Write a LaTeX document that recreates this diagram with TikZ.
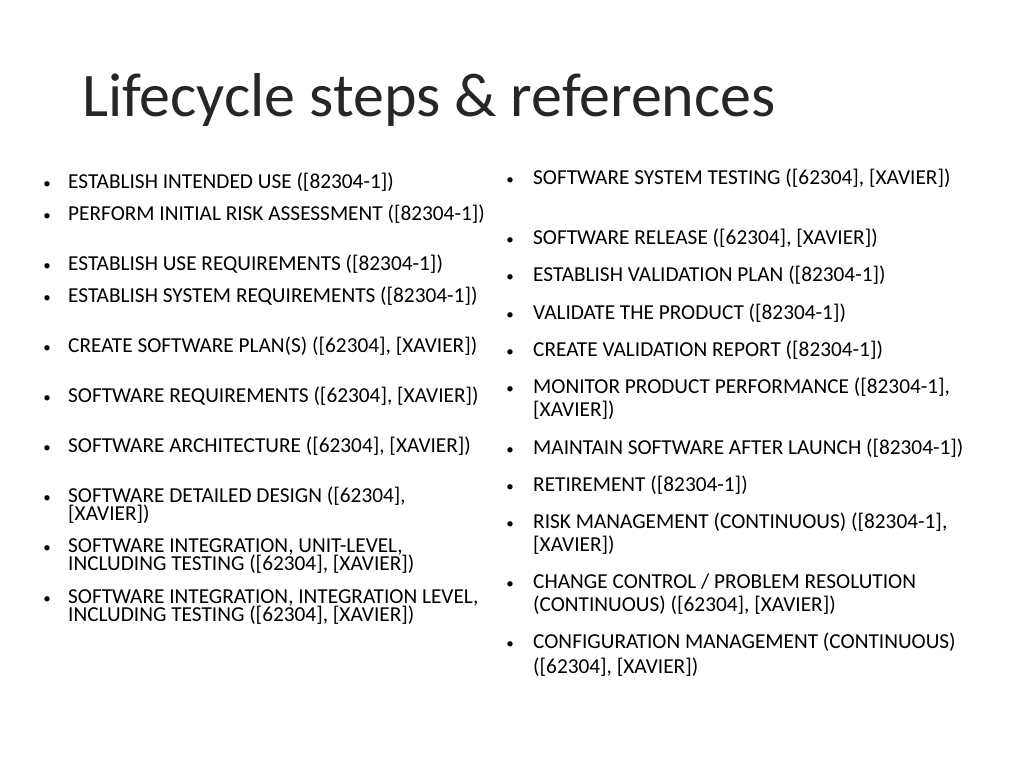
\documentclass[tikz,border=0pt]{standalone}
\usepackage{fontspec}
\setmainfont{Carlito}
\begin{document}
\begin{tikzpicture}[x=1pt,y=-1pt,
  txt/.style={anchor=mid west,inner sep=0pt,yshift=-1.5pt,font=\fontsize{21.3}{24}\selectfont},
  bul/.style={anchor=mid,inner sep=0pt,yshift=-1.5pt,font=\fontsize{15}{20}\selectfont}]
\useasboundingbox (0,0) rectangle (1024,768);
\node[anchor=mid west,inner sep=0pt,font=\fontsize{62}{66}\selectfont,text=black!85] (title) at (82,114) {Lifecycle steps \& references};
% left column
\foreach \y/\t [count=\i] in {
185/ESTABLISH INTENDED USE ({[82304-1]}),
217/PERFORM INITIAL RISK ASSESSMENT ({[82304-1]}),
267/ESTABLISH USE REQUIREMENTS ({[82304-1]}),
299/ESTABLISH SYSTEM REQUIREMENTS ({[82304-1]}),
349/CREATE SOFTWARE PLAN(S) ({[62304], [XAVIER]}),
399/SOFTWARE REQUIREMENTS ({[62304], [XAVIER]}),
449/SOFTWARE ARCHITECTURE ({[62304], [XAVIER]}),
499/SOFTWARE DETAILED DESIGN ({[62304],},
549/SOFTWARE INTEGRATION{,} UNIT-LEVEL{,},
600/SOFTWARE INTEGRATION{,} INTEGRATION LEVEL{,}}
{ \node[bul] (lb\i) at (47,\y) {•}; \node[txt] (lt\i) at (68,\y) {\t}; }
\node[txt] (lc1) at (68,517) {[XAVIER])};
\node[txt] (lc2) at (68,567) {INCLUDING TESTING ([62304], [XAVIER])};
\node[txt] (lc3) at (68,618) {INCLUDING TESTING ([62304], [XAVIER])};
% right column
\foreach \y/\t [count=\i] in {
181/SOFTWARE SYSTEM TESTING ({[62304], [XAVIER]}),
241/SOFTWARE RELEASE ({[62304], [XAVIER]}),
278/ESTABLISH VALIDATION PLAN ({[82304-1]}),
316/VALIDATE THE PRODUCT ({[82304-1]}),
353/CREATE VALIDATION REPORT ({[82304-1]}),
390/MONITOR PRODUCT PERFORMANCE ({[82304-1],},
451/MAINTAIN SOFTWARE AFTER LAUNCH ({[82304-1]}),
488/RETIREMENT ({[82304-1]}),
525/RISK MANAGEMENT (CONTINUOUS) ({[82304-1],},
585/{CHANGE CONTROL / PROBLEM RESOLUTION},
645/CONFIGURATION MANAGEMENT (CONTINUOUS)}
{ \node[bul] (rb\i) at (510,\y) {•}; \node[txt] (rt\i) at (533,\y) {\t}; }
\node[txt] (rc1) at (533,413) {[XAVIER])};
\node[txt] (rc2) at (533,548) {[XAVIER])};
\node[txt] (rc3) at (533,608) {(CONTINUOUS) ([62304], [XAVIER])};
\node[txt] (rc4) at (533,670) {([62304], [XAVIER])};
\end{tikzpicture}
\end{document}
